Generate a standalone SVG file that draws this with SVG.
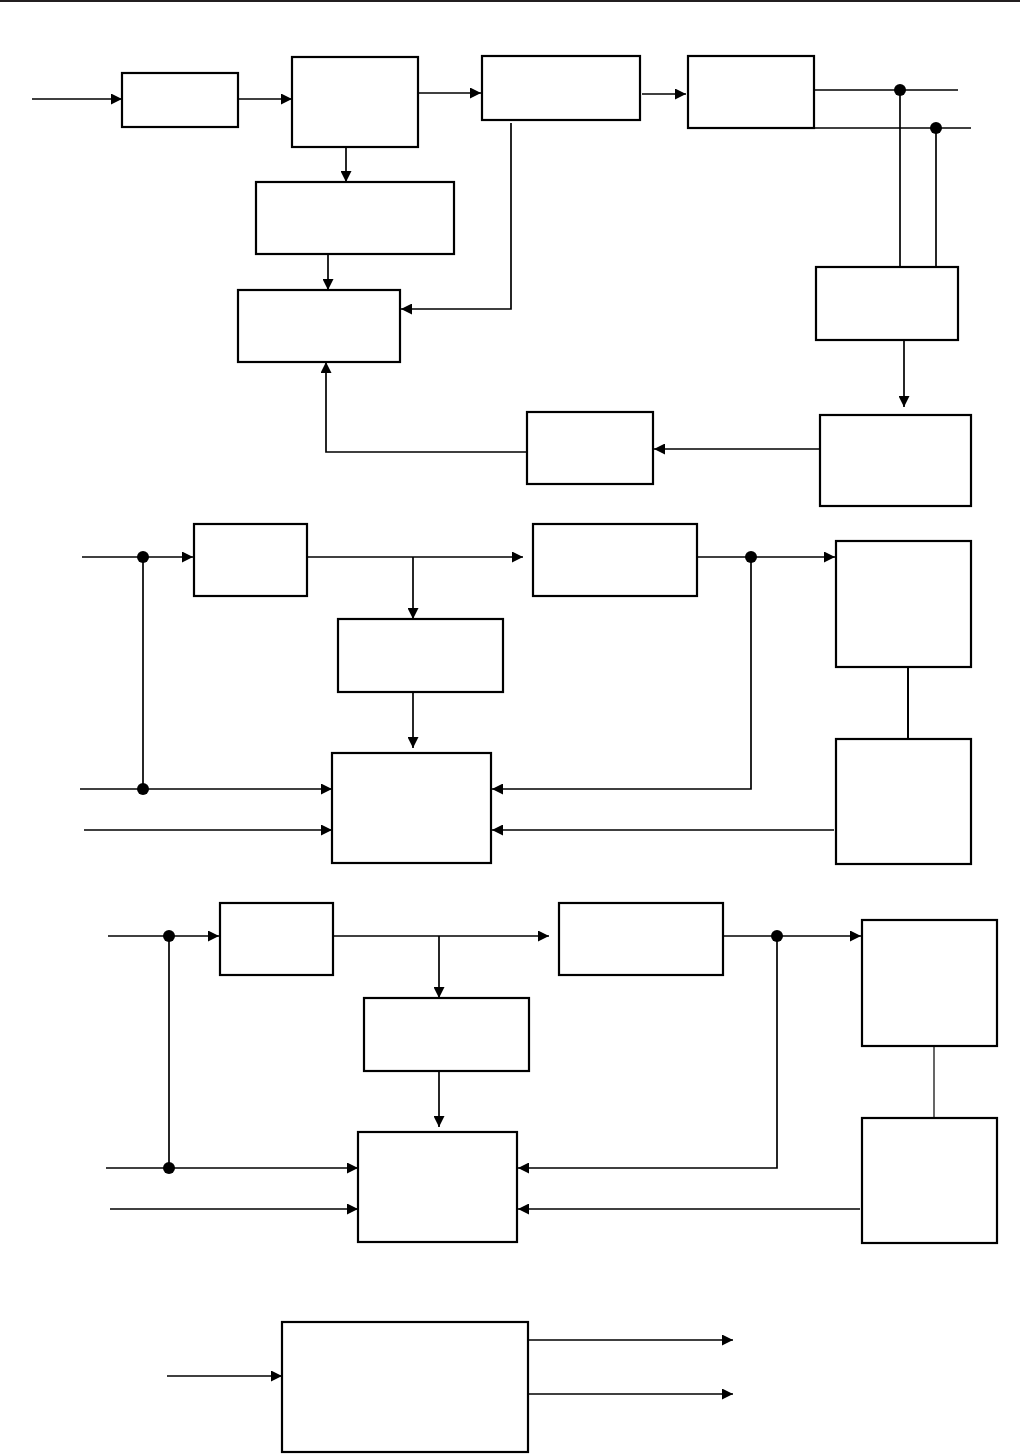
<svg xmlns="http://www.w3.org/2000/svg" width="1020" height="1454" viewBox="0 0 1020 1454">
<style>
.box{fill:#fff;stroke:#000;stroke-width:2.2}
.ln{fill:none;stroke:#000;stroke-width:1.7}
.arr{marker-end:url(#ah)}
.dot{fill:#000}
</style>
<defs>
<marker id="ah" viewBox="0 0 11 11" refX="11" refY="5.5" markerWidth="11" markerHeight="11" orient="auto" markerUnits="userSpaceOnUse"><path d="M0,0 L11,5.5 L0,11 z" fill="#000"/></marker>
</defs>
<rect x="0" y="0" width="1020" height="2" fill="#231f20"/>
<g id="connectors">
<!-- section 1 -->
<line class="ln arr" x1="32" y1="99" x2="122" y2="99"/>
<line class="ln arr" x1="238" y1="99" x2="292" y2="99"/>
<line class="ln arr" x1="418" y1="93" x2="481" y2="93"/>
<line class="ln arr" x1="642" y1="94" x2="686" y2="94"/>
<line class="ln" x1="814" y1="90" x2="958" y2="90"/>
<line class="ln" x1="814" y1="128" x2="971" y2="128"/>
<line class="ln" x1="900" y1="90" x2="900" y2="267"/>
<line class="ln" x1="936" y1="128" x2="936" y2="268"/>
<line class="ln arr" x1="904" y1="340" x2="904" y2="407"/>
<line class="ln arr" x1="820" y1="449" x2="654" y2="449"/>
<polyline class="ln arr" points="527,452 326,452 326,362"/>
<line class="ln arr" x1="346" y1="147" x2="346" y2="182"/>
<line class="ln arr" x1="328" y1="254" x2="328" y2="290"/>
<polyline class="ln arr" points="511,123 511,309 401,309"/>
<circle class="dot" cx="900" cy="90" r="6"/>
<circle class="dot" cx="936" cy="128" r="6"/>
<!-- section 2 -->
<line class="ln arr" x1="82" y1="557" x2="193" y2="557"/>
<line class="ln arr" x1="307" y1="557" x2="523" y2="557"/>
<line class="ln arr" x1="413" y1="557" x2="413" y2="619"/>
<line class="ln arr" x1="413" y1="692" x2="413" y2="748"/>
<line class="ln" x1="143" y1="557" x2="143" y2="789"/>
<line class="ln arr" x1="80" y1="789" x2="332" y2="789"/>
<line class="ln arr" x1="84" y1="830" x2="332" y2="830"/>
<line class="ln arr" x1="697" y1="557" x2="835" y2="557"/>
<line class="ln" x1="908" y1="667" x2="908" y2="739" style="stroke-width:2"/>
<polyline class="ln arr" points="751,557 751,789 492,789"/>
<line class="ln arr" x1="834" y1="830" x2="492" y2="830"/>
<circle class="dot" cx="143" cy="557" r="6"/>
<circle class="dot" cx="143" cy="789" r="6"/>
<circle class="dot" cx="751" cy="557" r="6"/>
<!-- section 3 -->
<line class="ln arr" x1="108" y1="936" x2="219" y2="936"/>
<line class="ln arr" x1="333" y1="936" x2="549" y2="936"/>
<line class="ln arr" x1="439" y1="936" x2="439" y2="998"/>
<line class="ln arr" x1="439" y1="1071" x2="439" y2="1127"/>
<line class="ln" x1="169" y1="936" x2="169" y2="1168"/>
<line class="ln arr" x1="106" y1="1168" x2="358" y2="1168"/>
<line class="ln arr" x1="110" y1="1209" x2="358" y2="1209"/>
<line class="ln arr" x1="723" y1="936" x2="861" y2="936"/>
<line class="ln" x1="934" y1="1046" x2="934" y2="1118" style="stroke-width:1.2"/>
<polyline class="ln arr" points="777,936 777,1168 518,1168"/>
<line class="ln arr" x1="860" y1="1209" x2="518" y2="1209"/>
<circle class="dot" cx="169" cy="936" r="6"/>
<circle class="dot" cx="169" cy="1168" r="6"/>
<circle class="dot" cx="777" cy="936" r="6"/>
<!-- section 4 -->
<line class="ln arr" x1="167" y1="1376" x2="282" y2="1376"/>
<line class="ln arr" x1="528" y1="1340" x2="733" y2="1340"/>
<line class="ln arr" x1="528" y1="1394" x2="733" y2="1394"/>
</g>
<g id="n1a"><rect class="box" x="122" y="73" width="116" height="54"/></g>
<g id="n1b"><rect class="box" x="292" y="57" width="126" height="90"/></g>
<g id="n1c"><rect class="box" x="482" y="56" width="158" height="64"/></g>
<g id="n1f"><rect class="box" x="688" y="56" width="126" height="72"/></g>
<g id="n1d"><rect class="box" x="256" y="182" width="198" height="72"/></g>
<g id="n1e"><rect class="box" x="238" y="290" width="162" height="72"/></g>
<g id="n1g"><rect class="box" x="816" y="267" width="142" height="73"/></g>
<g id="n1h"><rect class="box" x="820" y="415" width="151" height="91"/></g>
<g id="n1i"><rect class="box" x="527" y="412" width="126" height="72"/></g>
<g id="n2j"><rect class="box" x="194" y="524" width="113" height="72"/></g>
<g id="n2k"><rect class="box" x="338" y="619" width="165" height="73"/></g>
<g id="n2l"><rect class="box" x="332" y="753" width="159" height="110"/></g>
<g id="n2n"><rect class="box" x="533" y="524" width="164" height="72"/></g>
<g id="n2m"><rect class="box" x="836" y="541" width="135" height="126"/></g>
<g id="n2o"><rect class="box" x="836" y="739" width="135" height="125"/></g>
<g id="n3j"><rect class="box" x="220" y="903" width="113" height="72"/></g>
<g id="n3k"><rect class="box" x="364" y="998" width="165" height="73"/></g>
<g id="n3l"><rect class="box" x="358" y="1132" width="159" height="110"/></g>
<g id="n3n"><rect class="box" x="559" y="903" width="164" height="72"/></g>
<g id="n3m"><rect class="box" x="862" y="920" width="135" height="126"/></g>
<g id="n3o"><rect class="box" x="862" y="1118" width="135" height="125"/></g>
<g id="n4p"><rect class="box" x="282" y="1322" width="246" height="130"/></g>
</svg>
